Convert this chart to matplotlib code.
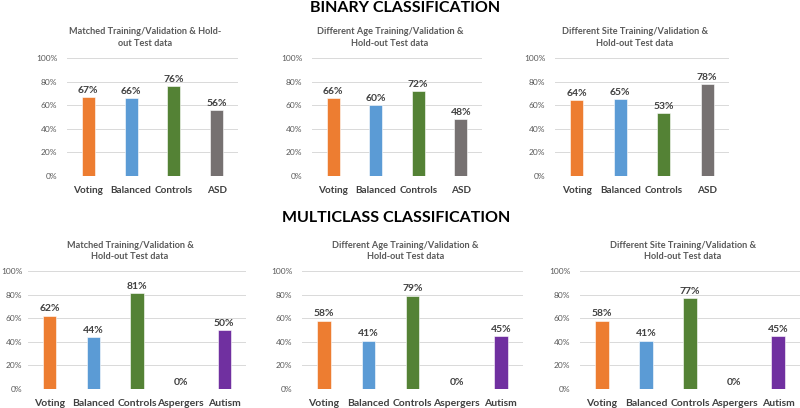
import matplotlib
matplotlib.use("Agg")
from matplotlib import pyplot as plt
import numpy as np

plt.rcParams['font.family'] = ['Lato', 'DejaVu Sans']

# data
binary_cats = ['Voting', 'Balanced', 'Controls', 'ASD']
multi_cats = ['Voting', 'Balanced', 'Controls', 'Aspergers', 'Autism']

binary_matched = [67, 66, 76, 56]
binary_age = [66, 60, 72, 48]
binary_site = [64, 65, 53, 78]

multi_matched = [62, 44, 81, 0, 50]
multi_age = [58, 41, 79, 0, 45]
multi_site = [58, 41, 77, 0, 45]

titles = ['Matched Training/Validation & Hold-\nout Test data',
          'Different Age Training/Validation &\nHold-out Test data',
          'Different Site Training/Validation &\nHold-out Test data',
          'Matched Training/Validation &\nHold-out Test data',
          'Different Age Training/Validation &\nHold-out Test data',
          'Different Site Training/Validation &\nHold-out Test data']

binary_colors = ['#ED7D31', '#5B9BD5', '#548235', '#767171']
multi_colors = ['#ED7D31', '#5B9BD5', '#548235', '#A5A5A5', '#7030A0']

W, H = 800, 408
fig = plt.figure(figsize=(W / 100, H / 100), dpi=100)

# axes boxes in pixels: left, right, top(100%), bottom(0%)
boxes = [(67, 238, 58, 176), (312, 482, 58, 176), (555, 729, 58, 176),
         (28, 246, 271, 389), (302, 523, 271, 389), (580, 800, 271, 389)]
title_y = [37.5, 37.5, 37.5, 251, 251, 251]

panels = [(binary_cats, binary_matched, binary_colors),
          (binary_cats, binary_age, binary_colors),
          (binary_cats, binary_site, binary_colors),
          (multi_cats, multi_matched, multi_colors),
          (multi_cats, multi_age, multi_colors),
          (multi_cats, multi_site, multi_colors)]

for i, (cats, vals, cols) in enumerate(panels):
    l, r, t, b = boxes[i]
    ax = fig.add_axes([l / W, 1 - b / H, (r - l) / W, (b - t) / H])
    x = np.arange(len(cats))
    ax.bar(x, vals, width=0.3, color=cols, edgecolor='white', linewidth=0.4, zorder=3)
    for xi, v in zip(x, vals):
        ax.text(xi, v + 2, f'{v}%', ha='center', va='bottom', fontsize=7.5,
                fontweight='bold', color='#404040')
    ax.set_xlim(-0.5, len(cats) - 0.5)
    ax.set_ylim(0, 100)
    ax.set_yticks(np.arange(0, 101, 20))
    ax.set_yticklabels([f'{v}%' for v in range(0, 101, 20)], fontsize=6, color='#595959')
    ax.set_xticks(x)
    ax.set_xticklabels(cats, fontsize=7.2 if i < 3 else 7.5, fontweight='bold', color='#404040')
    ax.tick_params(axis='both', length=0)
    ax.tick_params(axis='y', pad=4 if i == 3 else 7)
    ax.tick_params(axis='x', pad=7)
    ax.grid(axis='y', color='#D9D9D9', linewidth=0.7, zorder=0)
    ax.set_axisbelow(True)
    for s in ax.spines.values():
        s.set_visible(False)
    cx = (l + r) / 2 - 7
    fig.text(cx / W, 1 - title_y[i] / H, titles[i], ha='center', va='center',
             fontsize=6.6, fontweight='bold', color='#595959', linespacing=1.35)

fig.text(405 / W, 1 - 8 / H, 'BINARY CLASSIFICATION', ha='center', va='center',
         fontsize=11.5, fontweight='bold', color='black')
fig.text(396 / W, 1 - 218 / H, 'MULTICLASS CLASSIFICATION', ha='center', va='center',
         fontsize=11.5, fontweight='bold', color='black')

fig.savefig('out.png', dpi=100)
